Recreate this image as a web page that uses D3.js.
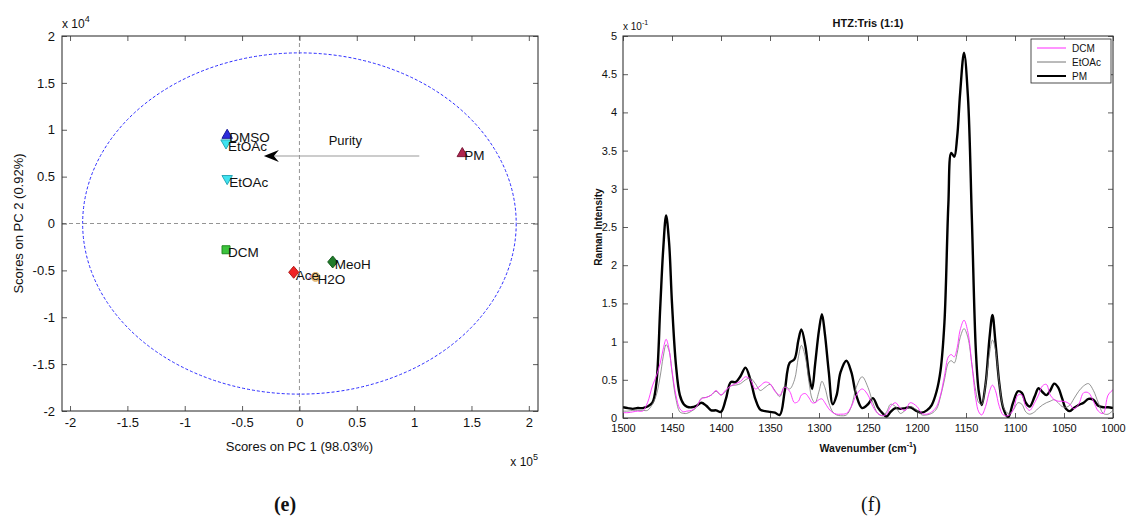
<!DOCTYPE html>
<html>
<head>
<meta charset="utf-8">
<script src="https://cdn.jsdelivr.net/npm/d3@7"></script>
<style>
  body { margin: 0; background: #fff; }
  svg { display: block; font-family: "Liberation Sans", Arial, Helvetica, sans-serif; }
</style>
</head>
<body>
<svg id="fig" width="1126" height="519"></svg>
<script>
// ---------- (e) PCA score plot ----------
const sampleNames  = ["DMSO", "EtOAc", "EtOAc", "PM", "DCM", "MeoH", "Ace", "H2O", ""];
const pc1Scores    = [-0.63, -0.64, -0.63, 1.42, -0.64, 0.29, -0.05, 0.14, 0.10];   // x 10^5
const pc2Scores    = [0.95, 0.85, 0.47, 0.755, -0.28, -0.41, -0.52, -0.57, -0.56]; // x 10^4
const pcaTicks     = [-2, -1.5, -1, -0.5, 0, 0.5, 1, 1.5, 2];
const limitRadii   = [1.89, 1.82];        // 95% limit ellipse: PC1 (x 10^5), PC2 (x 10^4)
const purityArrow  = [[1.045, 0.72], [-0.31, 0.72]];

// ---------- (f) Raman spectra ----------
const wavenumbers = [
  1500,1495,1490,1485,1480,1475,1470,1466,1462,1459,1456,1453,1450,1446,1442,1438,1435,1430,
  1425,1420,1415,1410,1405,1400,1395,1390,1385,1380,1375,1370,1365,1360,1355,1350,1345,1340,
  1335,1330,1325,1321,1318,1314,1310,1307,1304,1300,1297,1294,1290,1286,1282,1278,1272,1267,
  1262,1256,1250,1245,1240,1235,1231,1227,1222,1217,1212,1207,1200,1195,1190,
  1185,1180,1176,1172,1168,1165,1162,1159,1156,1152,1148,1144,1140,1137,1134,1130,1126,1123,
  1120,1116,1112,1107,1102,1097,1093,1089,1085,1080,1076,1072,1068,1064,1060,1056,1052,1048,
  1044,1040,1035,1030,1025,1020,1015,1010,1005,1000];
const dcmIntensity = [
  0.07,0.07,0.08,0.09,0.09,0.20,0.42,0.55,0.72,0.90,1.03,0.90,0.62,0.30,0.12,0.08,0.09,0.10,
  0.15,0.25,0.27,0.30,0.36,0.30,0.37,0.42,0.45,0.48,0.54,0.50,0.38,0.42,0.47,0.45,0.35,0.30,
  0.40,0.35,0.20,0.22,0.30,0.32,0.26,0.20,0.20,0.24,0.25,0.20,0.12,0.07,0.05,0.05,0.06,0.15,
  0.30,0.38,0.30,0.15,0.06,0.03,0.05,0.15,0.20,0.13,0.10,0.20,0.15,0.06,0.05,
  0.08,0.15,0.30,0.55,0.80,0.83,0.80,0.92,1.15,1.28,1.12,0.70,0.25,0.08,0.04,0.15,0.35,0.43,
  0.36,0.15,0.04,0.03,0.10,0.30,0.30,0.15,0.10,0.20,0.30,0.42,0.44,0.30,0.24,0.22,0.22,0.21,
  0.18,0.12,0.18,0.33,0.33,0.22,0.09,0.06,0.30,0.37];
const etoacIntensity = [
  0.09,0.09,0.10,0.10,0.10,0.10,0.18,0.30,0.55,0.80,0.96,0.88,0.60,0.25,0.08,0.06,0.06,0.09,
  0.14,0.26,0.27,0.30,0.35,0.30,0.35,0.42,0.43,0.45,0.50,0.52,0.45,0.36,0.40,0.44,0.36,0.28,
  0.42,0.38,0.50,0.80,0.95,0.80,0.45,0.25,0.20,0.35,0.48,0.40,0.20,0.08,0.04,0.03,0.04,0.15,
  0.40,0.54,0.40,0.20,0.06,0.03,0.08,0.18,0.15,0.06,0.10,0.15,0.10,0.04,0.04,
  0.06,0.12,0.28,0.50,0.72,0.75,0.72,0.85,1.05,1.17,1.05,0.70,0.35,0.20,0.18,0.45,0.85,1.02,
  0.90,0.45,0.15,0.06,0.10,0.20,0.18,0.08,0.05,0.08,0.13,0.17,0.20,0.22,0.24,0.20,0.15,0.14,
  0.17,0.25,0.35,0.42,0.45,0.36,0.20,0.06,0.05,0.10];
const pmIntensity = [
  0.14,0.13,0.12,0.13,0.13,0.15,0.20,0.45,1.45,2.20,2.65,2.30,1.50,0.70,0.30,0.18,0.15,0.14,
  0.16,0.20,0.16,0.10,0.10,0.08,0.25,0.47,0.47,0.55,0.66,0.50,0.25,0.11,0.09,0.08,0.07,0.04,
  0.35,0.72,0.77,1.02,1.16,0.95,0.55,0.38,0.70,1.15,1.36,1.10,0.60,0.18,0.30,0.60,0.75,0.60,
  0.30,0.13,0.18,0.26,0.14,0.06,0.02,0.08,0.13,0.12,0.13,0.14,0.09,0.07,0.10,
  0.17,0.35,0.62,1.25,2.80,3.47,3.42,3.68,4.25,4.78,4.20,2.60,0.90,0.35,0.17,0.45,1.05,1.35,
  1.00,0.45,0.13,0.01,0.20,0.35,0.33,0.20,0.15,0.28,0.39,0.34,0.30,0.36,0.45,0.40,0.26,0.12,
  0.09,0.13,0.17,0.20,0.25,0.24,0.16,0.14,0.14,0.13];
const seriesNames = ["DCM", "EtOAc", "PM"];
const wnTicks = [1500,1450,1400,1350,1300,1250,1200,1150,1100,1050,1000];
const intensityTicks = [0,0.5,1,1.5,2,2.5,3,3.5,4,4.5,5];

// ---------- styling ----------
const markerStyle = {
  "DMSO":  { shape: "triUp",   fill: "#2b2bdc", stroke: "#1a1a9a" },
  "EtOAc": { shape: "triDown", fill: "#3fe3f0", stroke: "#2aa8b8" },
  "PM":    { shape: "triUp",   fill: "#b0264f", stroke: "#7a1838" },
  "DCM":   { shape: "square",  fill: "#3cc43c", stroke: "#1f8a1f" },
  "MeoH":  { shape: "diamond", fill: "#1f7a2a", stroke: "#145a1c" },
  "Ace":   { shape: "diamond", fill: "#f02424", stroke: "#b01818" },
  "H2O":   { shape: "circle",  fill: "#f7cf8a", stroke: "#d9a860" },
  "":      { shape: "cross",   fill: "none",    stroke: "#d070e0" }
};
const lineStyle = {
  "DCM":   { color: "#ff2bff", width: 0.9 },
  "EtOAc": { color: "#777777", width: 0.8 },
  "PM":    { color: "#000000", width: 2.4 }
};

const svg = d3.select("#fig");
const num = d => String(d);

function matlabAxes(g, x, y, xTicks, yTicks, fontSize, labelPad) {
  const [x0, x1] = x.range().slice().sort((a, b) => a - b);
  const [y1, y0] = y.range().slice().sort((a, b) => a - b);
  g.append("rect").attr("x", x0).attr("y", y1).attr("width", x1 - x0).attr("height", y0 - y1)
    .attr("fill", "none").attr("stroke", "#222").attr("stroke-width", 1);
  const tl = 5;
  const bottom = g.append("g").attr("transform", `translate(0,${y0})`)
    .call(d3.axisBottom(x).tickValues(xTicks).tickSizeInner(-tl).tickSizeOuter(0)
      .tickPadding(labelPad).tickFormat(num));
  const top = g.append("g").attr("transform", `translate(0,${y1})`)
    .call(d3.axisTop(x).tickValues(xTicks).tickSizeInner(-tl).tickSizeOuter(0).tickFormat(""));
  const left = g.append("g").attr("transform", `translate(${x0},0)`)
    .call(d3.axisLeft(y).tickValues(yTicks).tickSizeInner(-tl).tickSizeOuter(0)
      .tickPadding(labelPad).tickFormat(num));
  const right = g.append("g").attr("transform", `translate(${x1},0)`)
    .call(d3.axisRight(y).tickValues(yTicks).tickSizeInner(-tl).tickSizeOuter(0).tickFormat(""));
  [bottom, top, left, right].forEach(a => {
    a.select(".domain").remove();
    a.selectAll("line").attr("stroke", "#333").attr("stroke-width", 0.8);
    a.selectAll("text").attr("fill", "#111").style("font-size", fontSize + "px")
      .style("font-family", '"Liberation Sans", Arial, sans-serif');
  });
  return { bottom, left };
}

// ================= panel (e) =================
const gE = svg.append("g");
const xE = d3.scaleLinear().domain([-2.07, 2.08]).range([62, 538]);
const yE = d3.scaleLinear().domain([-2, 2]).range([411, 36]);

// zero lines
gE.append("line").attr("x1", xE(0)).attr("x2", xE(0)).attr("y1", yE(2)).attr("y2", yE(-2))
  .attr("stroke", "#888").attr("stroke-dasharray", "4,3").attr("stroke-width", 0.9);
gE.append("line").attr("x1", xE.range()[0]).attr("x2", xE.range()[1]).attr("y1", yE(0)).attr("y2", yE(0))
  .attr("stroke", "#888").attr("stroke-dasharray", "4,3").attr("stroke-width", 0.9);

// confidence ellipse
gE.append("ellipse").attr("cx", xE(0)).attr("cy", yE(0))
  .attr("rx", xE(limitRadii[0]) - xE(0)).attr("ry", yE(0) - yE(limitRadii[1]))
  .attr("fill", "none").attr("stroke", "#2a2aff").attr("stroke-width", 1)
  .attr("stroke-dasharray", "3,2");

matlabAxes(gE, xE, yE, pcaTicks, pcaTicks, 13, 7);

// purity arrow
gE.append("line")
  .attr("x1", xE(purityArrow[0][0])).attr("y1", yE(purityArrow[0][1]))
  .attr("x2", xE(purityArrow[1][0]) + 8).attr("y2", yE(purityArrow[1][1]))
  .attr("stroke", "#999").attr("stroke-width", 1.2);
{
  const tx = xE(purityArrow[1][0]), ty = yE(purityArrow[1][1]);
  gE.append("path")
    .attr("d", `M${tx},${ty} L${tx + 15},${ty - 6} L${tx + 10},${ty} L${tx + 15},${ty + 6} Z`)
    .attr("fill", "#000");
}
gE.append("text").attr("x", xE(0.40)).attr("y", yE(0.89)).attr("text-anchor", "middle")
  .attr("dominant-baseline", "central").style("font-size", "13px").attr("fill", "#111").text("Purity");

// score markers
function markerPath(shape) {
  const s = 5.2;
  switch (shape) {
    case "triUp":   return `M0,${-s} L${s},${s * 0.75} L${-s},${s * 0.75} Z`;
    case "triDown": return `M0,${s} L${s},${-s * 0.75} L${-s},${-s * 0.75} Z`;
    case "square":  return `M${-4},${-4} H4 V4 H-4 Z`;
    case "diamond": return `M0,${-6} L5,0 L0,6 L-5,0 Z`;
    case "circle":  return d3.symbol(d3.symbolCircle, 60)();
    default:        return "M-3,-3 L3,3 M-3,3 L3,-3";
  }
}
const pts = sampleNames.map((n, i) => ({ name: n, x: pc1Scores[i], y: pc2Scores[i] }));
// the unlabelled replicate goes underneath the others
const order = [8, 0, 1, 2, 3, 4, 5, 7, 6];
order.forEach(i => {
  const p = pts[i], st = markerStyle[p.name];
  gE.append("path").attr("d", markerPath(st.shape))
    .attr("transform", `translate(${xE(p.x)},${yE(p.y)})`)
    .attr("fill", st.fill).attr("stroke", st.stroke).attr("stroke-width", 1);
});
pts.forEach(p => {
  if (!p.name) return;
  gE.append("text").attr("x", xE(p.x) + 2).attr("y", yE(p.y) + 3)
    .attr("dominant-baseline", "central").style("font-size", "13.5px").attr("fill", "#111")
    .text(p.name);
});

// axis titles and exponent labels
gE.append("text").attr("transform", `translate(18,${yE(0)}) rotate(-90)`)
  .attr("text-anchor", "middle").attr("dominant-baseline", "central")
  .style("font-size", "13px").attr("fill", "#111").text("Scores on PC 2 (0.92%)");
gE.append("text").attr("x", xE(0)).attr("y", 446).attr("text-anchor", "middle")
  .attr("dominant-baseline", "central").style("font-size", "13px").attr("fill", "#111")
  .text("Scores on PC 1 (98.03%)");
{
  const t = gE.append("text").attr("x", 62).attr("y", 28).style("font-size", "12px").attr("fill", "#111");
  t.append("tspan").text("x 10");
  t.append("tspan").attr("dy", -6).style("font-size", "9px").text("4");
  const b = gE.append("text").attr("x", 538).attr("y", 466).attr("text-anchor", "end")
    .style("font-size", "12px").attr("fill", "#111");
  b.append("tspan").text("x 10");
  b.append("tspan").attr("dy", -6).style("font-size", "9px").text("5");
}

// ================= panel (f) =================
const gF = svg.append("g");
const xF = d3.scaleLinear().domain([1500, 1000]).range([623, 1113]);
const yF = d3.scaleLinear().domain([0, 5]).range([418, 36]);

gF.append("clipPath").attr("id", "specClip").append("rect")
  .attr("x", 623).attr("y", 36).attr("width", 490).attr("height", 382);

const spectra = [dcmIntensity, etoacIntensity, pmIntensity];
const line = d3.line().x((d, i) => xF(wavenumbers[i])).y(d => yF(d))
  .curve(d3.curveCatmullRom.alpha(0.5));
const specG = gF.append("g").attr("clip-path", "url(#specClip)");
// PM first so the thin solvent traces stay visible on top
[2, 1, 0].forEach(k => {
  const st = lineStyle[seriesNames[k]];
  specG.append("path").datum(spectra[k]).attr("d", line)
    .attr("fill", "none").attr("stroke", st.color).attr("stroke-width", st.width)
    .attr("stroke-linejoin", "round");
});

matlabAxes(gF, xF, yF, wnTicks, intensityTicks, 11, 6);

gF.append("text").attr("x", 868).attr("y", 23).attr("text-anchor", "middle")
  .attr("dominant-baseline", "central").style("font-size", "11px").style("font-weight", "bold")
  .attr("fill", "#111").text("HTZ:Tris (1:1)");
{
  const t = gF.append("text").attr("x", 623).attr("y", 30).style("font-size", "10px").attr("fill", "#111");
  t.append("tspan").text("x 10");
  t.append("tspan").attr("dy", -5).style("font-size", "7px").text("-1");
  const xl = gF.append("text").attr("x", 868).attr("y", 452).attr("text-anchor", "middle")
    .style("font-size", "10.5px").style("font-weight", "bold").attr("fill", "#111");
  xl.append("tspan").text("Wavenumber (cm");
  xl.append("tspan").attr("dy", -5).style("font-size", "7px").text("-1");
  xl.append("tspan").attr("dy", 5).text(")");
}
gF.append("text").attr("transform", `translate(598,${(36 + 418) / 2}) rotate(-90)`)
  .attr("text-anchor", "middle").attr("dominant-baseline", "central")
  .style("font-size", "10px").style("font-weight", "bold").attr("fill", "#111").text("Raman Intensity");

// legend
{
  const lg = gF.append("g");
  lg.append("rect").attr("x", 1031).attr("y", 39).attr("width", 80).attr("height", 44)
    .attr("fill", "#fff").attr("stroke", "#222").attr("stroke-width", 0.8);
  seriesNames.forEach((n, i) => {
    const yy = 48 + i * 14, st = lineStyle[n];
    lg.append("line").attr("x1", 1037).attr("x2", 1066).attr("y1", yy).attr("y2", yy)
      .attr("stroke", st.color).attr("stroke-width", n === "PM" ? 2 : 1);
    lg.append("text").attr("x", 1072).attr("y", yy).attr("dominant-baseline", "central")
      .style("font-size", "10px").attr("fill", "#111").text(n);
  });
}

// panel letters
svg.append("text").attr("x", 285).attr("y", 511).attr("text-anchor", "middle")
  .style("font-family", '"Liberation Serif", "DejaVu Serif", serif').style("font-size", "20px")
  .style("font-weight", "bold").attr("fill", "#111").text("(e)");
svg.append("text").attr("x", 871).attr("y", 511).attr("text-anchor", "middle")
  .style("font-family", '"Liberation Serif", "DejaVu Serif", serif').style("font-size", "20px")
  .attr("fill", "#111").text("(f)");
</script>
</body>
</html>
